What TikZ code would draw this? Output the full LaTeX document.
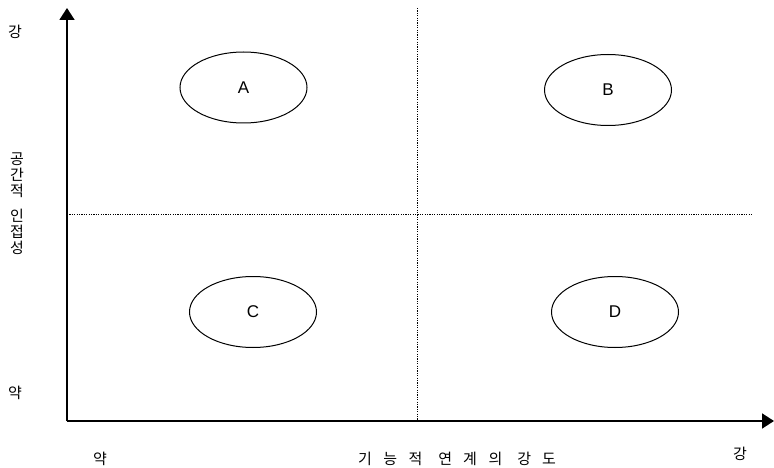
\documentclass[tikz,border=0pt]{standalone}
\usepackage{fontspec}
\setmainfont{Liberation Sans}
\newfontfamily\kr{Noto Sans CJK KR}
\usetikzlibrary{arrows.meta,shapes.geometric}
\begin{document}
\begin{tikzpicture}[x=1pt,y=-1pt,
  axis/.style={line width=1.8pt,-{Triangle[length=12pt,width=15pt]}},
  guide/.style={line width=0.8pt,dash pattern=on 1.2pt off 1.2pt},
  cell/.style={draw,line width=1pt,ellipse,minimum width=127pt,minimum height=71pt,inner sep=0pt,font=\fontsize{17}{20}\selectfont},
  lbl/.style={font=\kr\fontsize{15}{16}\selectfont,inner sep=0pt}]
\useasboundingbox (0,0) rectangle (774,468);
\coordinate (o) at (67,421);
\coordinate (ytip) at (67,8);
\coordinate (xtip) at (774,421);
\coordinate (vt) at (417,8);
\coordinate (vb) at (417,421);
\coordinate (hl) at (67,214);
\coordinate (hr) at (752,214);
\draw[guide] (vt) -- (vb);
\draw[guide] (hl) -- (hr);
\draw[axis] (o) -- (ytip);
\draw[axis] (o) -- (xtip);
\node[cell] (A) at (243.5,87.5) {A};
\node[cell] (B) at (608,90) {B};
\node[cell] (C) at (253,312) {C};
\node[cell] (D) at (615,312) {D};
\node[lbl] (ystrong) at (15,32) {강};
\node[lbl,align=center] (ytitle) at (17,204) {공\\간\\적\\[9pt]인\\접\\성};
\node[lbl] (yweak) at (15,393) {약};
\node[lbl] (xweak) at (100,459) {약};
\node[lbl] (xtitle) at (457,459) {기\hspace{11.5pt}능\hspace{11.5pt}적\hspace{16pt}연\hspace{11pt}계\hspace{11.5pt}의\hspace{15pt}강\hspace{11pt}도};
\node[lbl] (xstrong) at (740,454) {강};
\end{tikzpicture}
\end{document}
